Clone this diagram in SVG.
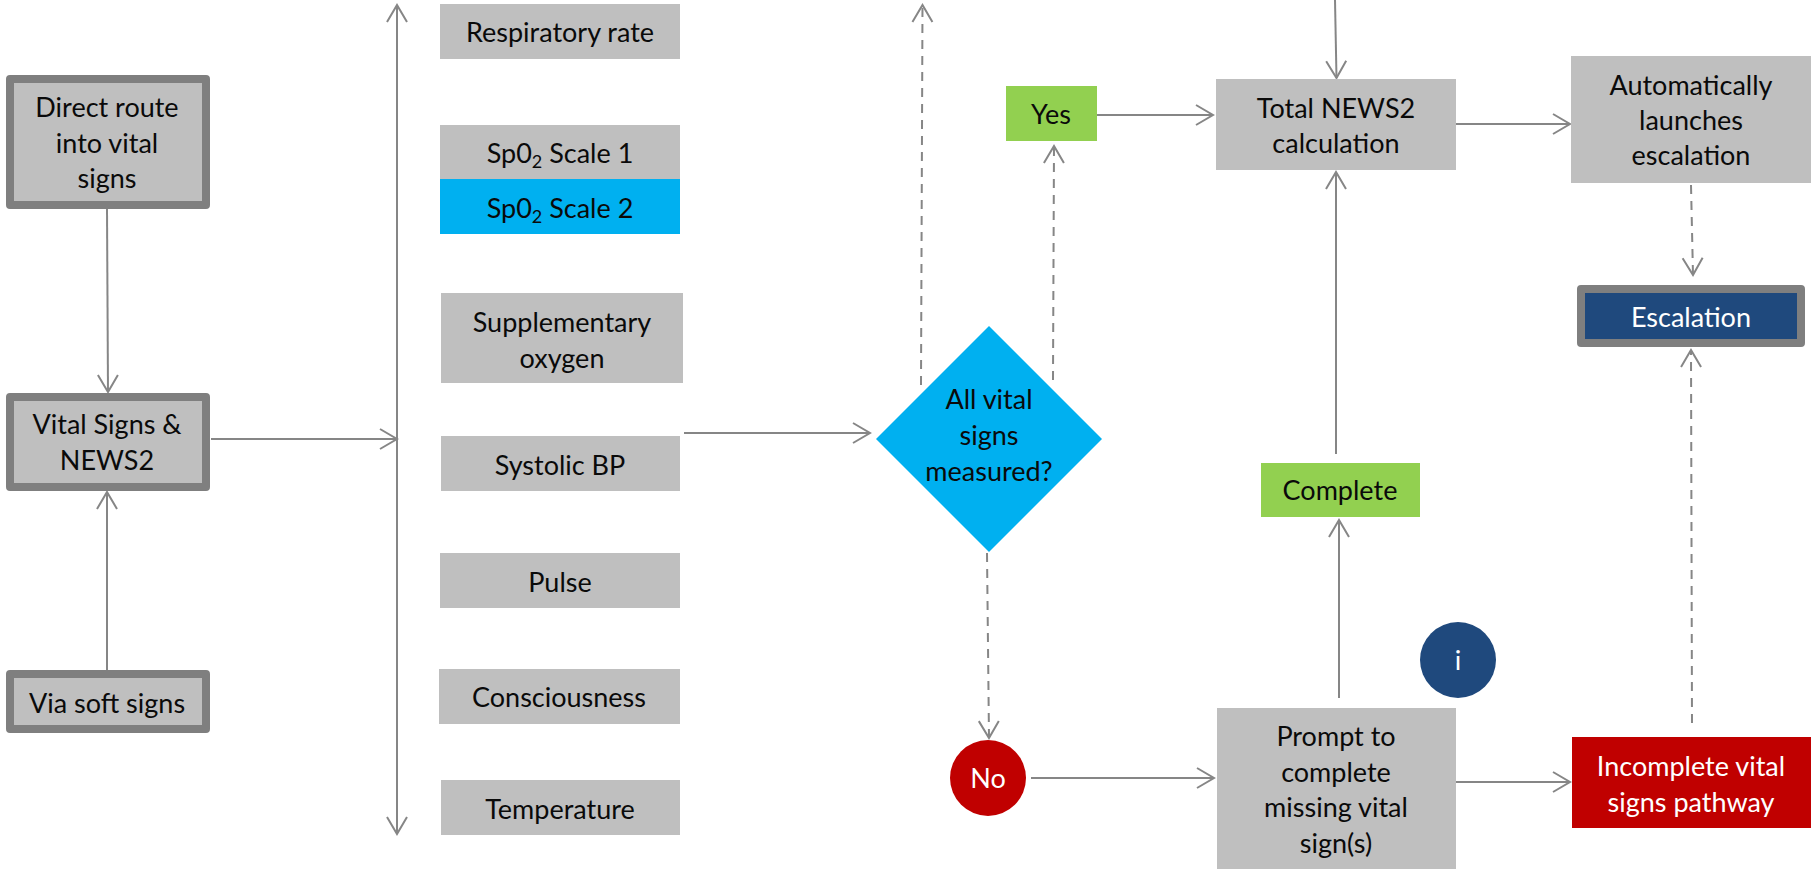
<svg xmlns="http://www.w3.org/2000/svg" width="1814" height="869" viewBox="0 0 1814 869">
<style>
text{font-family:Lato,"Liberation Sans",sans-serif;font-size:27px;fill:#0a0a0a;text-anchor:middle;transform:translateY(1px)}
.w{fill:#fff}
.g{fill:#bfbfbf}
.b{fill:#bfbfbf;stroke:#7f7f7f;stroke-width:8;stroke-linejoin:round}
.c{fill:none;stroke:#868686;stroke-width:2;marker-end:url(#a)}
.d{stroke-dasharray:9 7}
</style>
<defs><marker id="a" markerUnits="userSpaceOnUse" markerWidth="24" markerHeight="26" refX="20" refY="12" orient="auto"><path d="M3 2L20 12L3 22" fill="none" stroke="#868686" stroke-width="2"/></marker><marker id="s" markerUnits="userSpaceOnUse" markerWidth="24" markerHeight="26" refX="20" refY="12" orient="auto-start-reverse"><path d="M3 2L20 12L3 22" fill="none" stroke="#868686" stroke-width="2"/></marker></defs>
<g id="connectors">
<path class="c" d="M107 209L108 392"/>
<path class="c" d="M107 670V492"/>
<path class="c" d="M211 439H397"/>
<path class="c" d="M397 5V834" style="marker-start:url(#s)"/>
<path class="c" d="M684 433H870"/>
<path class="c d" d="M921 385L922.5 5"/>
<path class="c d" d="M1053 380L1054 146"/>
<path class="c" d="M1097 115H1213"/>
<path class="c" d="M1335 0L1336.500 78"/>
<path class="c" d="M1336 454V172"/>
<path class="c" d="M1454 124H1570"/>
<path class="c d" d="M1691 185L1693 275"/>
<path class="c d" d="M1692 723L1691 350"/>
<path class="c d" d="M987 553L989 738"/>
<path class="c" d="M1031 778H1214"/>
<path class="c" d="M1456 782H1570"/>
<path class="c" d="M1339 698V520"/>
</g>
<g id="direct"><rect class="b" x="10" y="79" width="196" height="126"/><text x="107" y="116">Direct route</text><text x="107" y="152">into vital</text><text x="107" y="187">signs</text></g>
<g id="vital"><rect class="b" x="10" y="397" width="196" height="90"/><text x="107" y="433">Vital Signs &amp;</text><text x="107" y="469">NEWS2</text></g>
<g id="soft"><rect class="b" x="10" y="674" width="196" height="55"/><text x="107" y="712">Via soft signs</text></g>
<g id="resp"><rect class="g" x="440" y="4" width="240" height="55"/><text x="560" y="41">Respiratory rate</text></g>
<g id="scale1"><rect class="g" x="440" y="125" width="240" height="54"/><text x="560" y="162">Sp0<tspan font-size="18" dy="5">2</tspan><tspan dy="-5"> Scale 1</tspan></text></g>
<g id="scale2"><rect x="440" y="179" width="240" height="55" fill="#00b0f0"/><text x="560" y="217">Sp0<tspan font-size="18" dy="5">2</tspan><tspan dy="-5"> Scale 2</tspan></text></g>
<g id="supp"><rect class="g" x="441" y="293" width="242" height="90"/><text x="562" y="331">Supplementary</text><text x="562" y="367">oxygen</text></g>
<g id="systolic"><rect class="g" x="441" y="436" width="239" height="55"/><text x="560" y="474">Systolic BP</text></g>
<g id="pulse"><rect class="g" x="440" y="553" width="240" height="55"/><text x="560" y="591">Pulse</text></g>
<g id="consc"><rect class="g" x="439" y="669" width="241" height="55"/><text x="559" y="706">Consciousness</text></g>
<g id="temp"><rect class="g" x="441" y="780" width="239" height="55"/><text x="560" y="818">Temperature</text></g>
<g id="decision"><path d="M989 326L1102 439L989 552L876 439Z" fill="#00b0f0"/><text x="989" y="408">All vital</text><text x="989" y="444">signs</text><text x="989" y="480">measured?</text></g>
<g id="yes"><rect x="1006" y="86" width="91" height="55" fill="#92d050"/><text x="1051" y="123">Yes</text></g>
<g id="total"><rect class="g" x="1216" y="79" width="240" height="91"/><text x="1336" y="117">Total NEWS2</text><text x="1336" y="152">calculation</text></g>
<g id="auto"><rect class="g" x="1571" y="56" width="240" height="127"/><text x="1691" y="94">Automatically</text><text x="1691" y="129">launches</text><text x="1691" y="164">escalation</text></g>
<g id="escalation"><rect x="1581" y="289" width="220" height="54" fill="#1f497d" stroke="#7f7f7f" stroke-width="8" stroke-linejoin="round"/><text class="w" x="1691" y="326">Escalation</text></g>
<g id="complete"><rect x="1261" y="463" width="159" height="54" fill="#92d050"/><text x="1340" y="499">Complete</text></g>
<g id="info"><circle cx="1458" cy="660" r="38" fill="#1f497d"/><text class="w" x="1458" y="669">i</text></g>
<g id="no"><circle cx="988" cy="778" r="38" fill="#c00000"/><text class="w" x="988" y="787">No</text></g>
<g id="prompt"><rect class="g" x="1217" y="708" width="239" height="161"/><text x="1336" y="745">Prompt to</text><text x="1336" y="781">complete</text><text x="1336" y="816">missing vital</text><text x="1336" y="852">sign(s)</text></g>
<g id="incomplete"><rect x="1572" y="737" width="239" height="91" fill="#c00000"/><text class="w" x="1691" y="775">Incomplete vital</text><text class="w" x="1691" y="811">signs pathway</text></g>
</svg>
